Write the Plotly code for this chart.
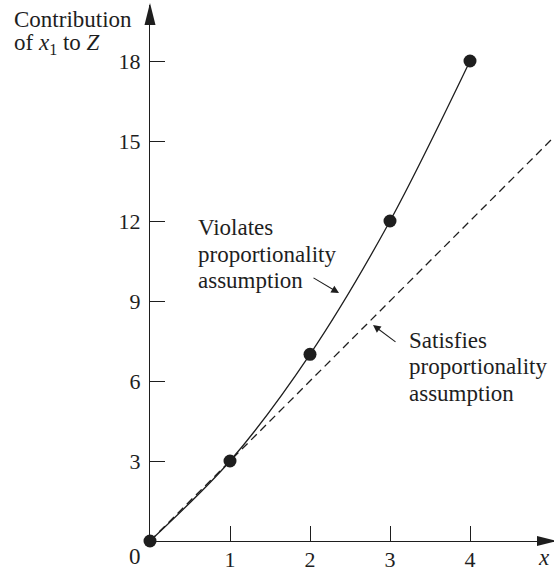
import plotly.graph_objects as go

# ---- data ----
x_vals = [0, 1, 2, 3, 4]
z_vals = [0, 3, 7, 12, 18]            # violates proportionality (curve)
prop_x = [0, 5.05]                   # satisfies proportionality (dashed)
prop_y = [0, 15.15]
x_ticks = [1, 2, 3, 4]
y_ticks = [3, 6, 9, 12, 15, 18]

W, H = 554, 574
ML, MR, MT, MB = 150, 0, 5, 33
PW, PH = W - ML - MR, H - MT - MB
XPX, YPX = 80.0, 80.0 / 3.0          # pixels per unit
XMAX = PW / XPX
YMAX = PH / YPX

FONT = "Liberation Serif"
INK = "#1e1e1e"


def px(xp, yp):
    """page pixel -> paper coordinates"""
    return (xp - ML) / PW, (H - MB - yp) / PH


fig = go.Figure()
fig.add_trace(go.Scatter(x=prop_x, y=prop_y, mode="lines",
                         line=dict(color=INK, width=1.3, dash="8px,5px"),
                         hoverinfo="skip", cliponaxis=False))
fig.add_trace(go.Scatter(x=x_vals, y=z_vals, mode="lines+markers",
                         line=dict(color=INK, width=1.3, shape="spline", smoothing=0.9),
                         marker=dict(color=INK, size=13),
                         cliponaxis=False))

ann = []


def text(s, xp, yp, size=23, xanchor="left"):
    x, y = px(xp, yp)
    ann.append(dict(text=s, x=x, y=y, xref="paper", yref="paper", showarrow=False,
                    xanchor=xanchor, yanchor="middle",
                    font=dict(family=FONT, size=size, color=INK)))


# axis title
text("Contribution", 12, 19)
text("of <i>x</i><sub>1</sub> to <i>Z</i>", 12, 44)
# origin and x-axis label
text("0", 135, 556, xanchor="center")
text("<i>x</i>", 536, 557)
# annotations text
for i, s in enumerate(["Violates", "proportionality", "assumption"]):
    text(s, 196, 228 + 26 * i)
for i, s in enumerate(["Satisfies", "proportionality", "assumption"]):
    text(s, 407, 340 + 26.5 * i)

# pointer arrows
ann.append(dict(x=(339 - ML) / XPX, y=(H - MB - 293) / YPX, xref="x", yref="y",
                ax=-27, ay=-16, text="", showarrow=True, arrowhead=2,
                arrowsize=1.4, arrowwidth=1.1, arrowcolor=INK))
ann.append(dict(x=(373 - ML) / XPX, y=(H - MB - 325) / YPX, xref="x", yref="y",
                ax=24, ay=18, text="", showarrow=True, arrowhead=2,
                arrowsize=1.4, arrowwidth=1.1, arrowcolor=INK))

shapes = [
    # y axis arrowhead
    dict(type="path", xref="paper", yref="paper", xsizemode="pixel", ysizemode="pixel",
         xanchor=0, yanchor=1, path="M0,2 L-5.5,-20 L5.5,-20 Z",
         fillcolor=INK, line=dict(width=0)),
    # x axis arrowhead
    dict(type="path", xref="paper", yref="paper", xsizemode="pixel", ysizemode="pixel",
         xanchor=1, yanchor=0, path="M3,0 L-17,5 L-17,-5 Z",
         fillcolor=INK, line=dict(width=0)),
]

fig.update_layout(
    width=W, height=H,
    margin=dict(l=ML, r=MR, t=MT, b=MB, pad=0),
    paper_bgcolor="white", plot_bgcolor="white",
    showlegend=False,
    font=dict(family=FONT, size=22, color=INK),
    annotations=ann, shapes=shapes,
    xaxis=dict(range=[0, XMAX], tickvals=x_ticks, ticktext=[str(v) for v in x_ticks],
               ticks="inside", ticklen=15, tickwidth=1.3, tickcolor=INK,
               showline=True, linecolor=INK, linewidth=1.3,
               showgrid=False, zeroline=False, fixedrange=True,
               tickfont=dict(family=FONT, size=22, color=INK), ticklabelstandoff=-2),
    yaxis=dict(range=[0, YMAX], tickvals=y_ticks, ticktext=[str(v) for v in y_ticks],
               ticks="inside", ticklen=15, tickwidth=1.3, tickcolor=INK,
               showline=True, linecolor=INK, linewidth=1.3,
               showgrid=False, zeroline=False, fixedrange=True,
               tickfont=dict(family=FONT, size=22, color=INK), ticklabelstandoff=4),
)

fig.write_html("out.html", config={"displayModeBar": False},
               post_script="document.body.style.margin='0';document.body.style.overflow='hidden';")
